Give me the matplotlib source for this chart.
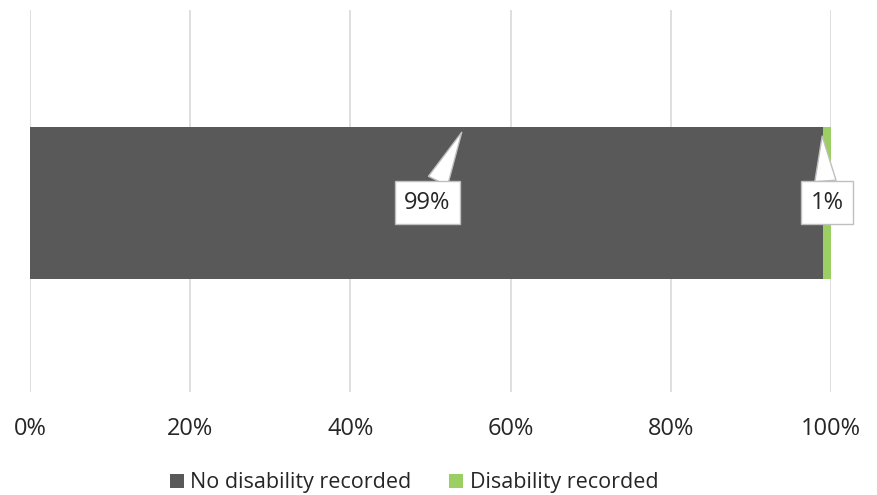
import matplotlib.pyplot as plt
from matplotlib.ticker import PercentFormatter

plt.rcParams['font.family'] = ['Open Sans', 'DejaVu Sans']

categories = ["No disability recorded", "Disability recorded"]
shares = [99, 1]
colors = ['#595959', '#9bcf63']
label_pos = [(49.6, -0.005), (99.5, -0.005)]   # callout box centres
pointer_pos = [(53.9, 0.18), (98.9, 0.17)]  # where the callout points

fig = plt.figure(figsize=(8.78, 4.95), dpi=100)
ax = fig.add_axes([30 / 878, 103 / 495, 801 / 878, 382 / 495])

left = 0
for cat, val, col in zip(categories, shares, colors):
    ax.barh(-0.004, val, left=left, height=0.398, color=col, label=cat, zorder=2)
    left += val

for val, (bx, by), (px, py) in zip(shares, label_pos, pointer_pos):
    ax.annotate(f"{val}%", xy=(px, py), xytext=(bx, by),
                ha='center', va='center', fontsize=17, color='#262626', zorder=5,
                bbox=dict(boxstyle='square,pad=0.4', fc='white', ec='#bfbfbf', lw=1),
                arrowprops=dict(arrowstyle='wedge,tail_width=0.9,shrink_factor=0.5',
                                fc='white', ec='#bfbfbf', lw=1,
                                shrinkA=0, shrinkB=0))

ax.set_xlim(0, 100)
ax.set_ylim(-0.5, 0.5)
ax.set_xticks(range(0, 101, 20))
ax.xaxis.set_major_formatter(PercentFormatter(decimals=0))
ax.set_yticks([])
ax.grid(axis='x', color='#d9d9d9', lw=1.2, zorder=0)
for s in ax.spines.values():
    s.set_visible(False)
ax.tick_params(axis='x', length=0, pad=18, labelsize=17, labelcolor='#262626')

ax.legend(loc='center', bbox_to_anchor=(384 / 801, -0.238), ncol=2, frameon=False,
          fontsize=15.5, handlelength=0.65, handleheight=0.65, handletextpad=0.3,
          columnspacing=1.75, labelcolor='#262626')

fig.savefig('out.png', dpi=100)
